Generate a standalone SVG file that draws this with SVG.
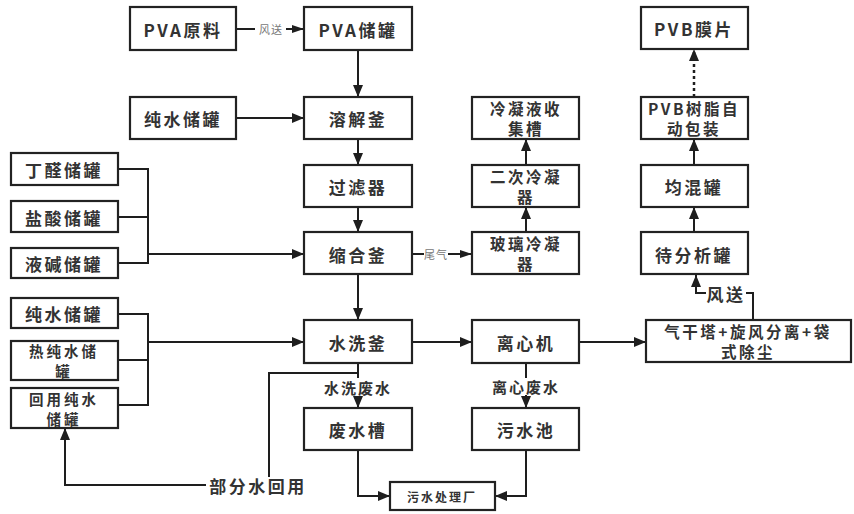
<svg xmlns="http://www.w3.org/2000/svg" width="854" height="514" viewBox="0 0 854 514">
<defs>
<marker id="ah" viewBox="0 0 12 10" refX="12" refY="5" markerWidth="12" markerHeight="11" markerUnits="userSpaceOnUse" orient="auto">
<path d="M0,0 L12,5 L0,10 z" fill="#1e1e1e"/>
</marker>
<marker id="ahs" viewBox="0 0 12 8" refX="12" refY="4" markerWidth="12" markerHeight="8" markerUnits="userSpaceOnUse" orient="auto">
<path d="M0,0 L12,4 L0,8 z" fill="#1e1e1e"/>
</marker>
</defs>
<style>
rect.b{fill:#fff;stroke:#222;stroke-width:2.2}
text{font-family:"Noto Sans CJK SC","Noto Sans",sans-serif;fill:#333;font-size:17px;font-weight:bold;letter-spacing:2.5px;text-anchor:middle;dominant-baseline:central}
text.t2{font-size:15.5px;letter-spacing:2.5px}
text.t3{font-size:14.5px;letter-spacing:3px}
text.lbl{font-size:15px;letter-spacing:2px}
text.sm{font-size:11px;fill:#777;font-weight:normal;letter-spacing:1px}
text.wt{font-size:12px;letter-spacing:2px}
.c path,.c line,.c polyline{fill:none;stroke:#1e1e1e;stroke-width:2}
.arr{marker-end:url(#ah)}
.c line.dot{stroke-dasharray:3 3;stroke-width:2.5}
</style>
<rect width="854" height="514" fill="#fff"/>
<g class="c" id="connectors">
<line x1="236" y1="29" x2="255" y2="29"/>
<line x1="286" y1="29" x2="304" y2="29" style="marker-end:url(#ahs)"/>
<line x1="358" y1="50" x2="358" y2="97" class="arr"/>
<line x1="236" y1="118" x2="304" y2="118" class="arr"/>
<line x1="358" y1="139" x2="358" y2="165" class="arr"/>
<line x1="358" y1="207" x2="358" y2="232" class="arr"/>
<line x1="358" y1="274" x2="358" y2="320" class="arr"/>
<polyline points="118,169 148,169 148,263 118,263"/>
<line x1="118" y1="217" x2="148" y2="217"/>
<line x1="148" y1="254" x2="304" y2="254" class="arr"/>
<polyline points="118,314 148,314 148,405 118,405"/>
<line x1="118" y1="360" x2="148" y2="360"/>
<line x1="148" y1="342" x2="304" y2="342" class="arr"/>
<line x1="412" y1="254" x2="424" y2="254"/>
<line x1="448" y1="254" x2="472" y2="254" style="marker-end:url(#ahs)"/>
<line x1="526" y1="232" x2="526" y2="207" class="arr"/>
<line x1="526" y1="165" x2="526" y2="139" class="arr"/>
<line x1="412" y1="342" x2="472" y2="342" class="arr"/>
<line x1="579" y1="342" x2="646" y2="342" class="arr"/>
<line x1="358" y1="363" x2="358" y2="378"/>
<line x1="358" y1="396" x2="358" y2="408" class="arr"/>
<polyline points="358,373 269,373 269,477"/>
<polyline points="206,485 65,485 65,428" class="arr"/>
<line x1="526" y1="363" x2="526" y2="378"/>
<line x1="526" y1="395" x2="526" y2="408" class="arr"/>
<polyline points="358,450 358,496 390,496" class="arr"/>
<polyline points="526,450 526,496 495,496" class="arr"/>
<polyline points="753,320 753,293 746,293"/>
<polyline points="706,293 696,293 696,275" class="arr"/>
<line x1="694" y1="232" x2="694" y2="207" class="arr"/>
<line x1="694" y1="165" x2="694" y2="139" class="arr"/>
<line x1="694" y1="97" x2="694" y2="49" class="arr dot"/>
<text class="sm" x="271" y="29">风送</text>
<text class="sm" x="436" y="254">尾气</text>
<text class="lbl" x="358" y="387">水洗废水</text>
<text class="lbl" x="526" y="386">离心废水</text>
<text x="258" y="485">部分水回用</text>
<text x="726" y="293">风送</text>
</g>
<g id="pva_raw"><rect class="b" x="130" y="7" width="106" height="43"/><text x="183" y="29">PVA原料</text></g>
<g id="pva_tank"><rect class="b" x="304" y="7" width="108" height="43"/><text x="358" y="29">PVA储罐</text></g>
<g id="pure_water_top"><rect class="b" x="130" y="97" width="106" height="42"/><text x="183" y="118">纯水储罐</text></g>
<g id="dissolve"><rect class="b" x="304" y="97" width="108" height="42"/><text x="358" y="118">溶解釜</text></g>
<g id="filter"><rect class="b" x="304" y="165" width="108" height="42"/><text x="358" y="186">过滤器</text></g>
<g id="condense_kettle"><rect class="b" x="304" y="232" width="108" height="42"/><text x="358" y="254">缩合釜</text></g>
<g id="wash_kettle"><rect class="b" x="304" y="320" width="108" height="43"/><text x="358" y="342">水洗釜</text></g>
<g id="waste_tank"><rect class="b" x="304" y="408" width="108" height="42"/><text x="358" y="429">废水槽</text></g>
<g id="butyraldehyde"><rect class="b" x="11" y="153" width="107" height="32"/><text x="64" y="169">丁醛储罐</text></g>
<g id="hcl"><rect class="b" x="11" y="201" width="107" height="31"/><text x="64" y="217">盐酸储罐</text></g>
<g id="naoh"><rect class="b" x="11" y="248" width="107" height="30"/><text x="64" y="263">液碱储罐</text></g>
<g id="pure_water_left"><rect class="b" x="11" y="298" width="107" height="30"/><text x="64" y="313">纯水储罐</text></g>
<g id="hot_water"><rect class="b" x="11" y="341" width="107" height="39"/><text class="t3" x="64" y="350.5">热纯水储</text><text class="t3" x="64" y="370.5">罐</text></g>
<g id="reuse_water"><rect class="b" x="11" y="388" width="107" height="40"/><text class="t3" x="64" y="398">回用纯水</text><text class="t3" x="64" y="418">储罐</text></g>
<g id="condensate"><rect class="b" x="472" y="97" width="107" height="42"/><text class="t2" x="526" y="108">冷凝液收</text><text class="t2" x="526" y="128">集槽</text></g>
<g id="second_condenser"><rect class="b" x="472" y="165" width="107" height="42"/><text class="t2" x="526" y="176">二次冷凝</text><text class="t2" x="526" y="196">器</text></g>
<g id="glass_condenser"><rect class="b" x="472" y="232" width="107" height="42"/><text class="t2" x="526" y="243">玻璃冷凝</text><text class="t2" x="526" y="263">器</text></g>
<g id="centrifuge"><rect class="b" x="472" y="320" width="107" height="43"/><text x="526" y="342">离心机</text></g>
<g id="sewage_pool"><rect class="b" x="472" y="408" width="107" height="42"/><text x="526" y="429">污水池</text></g>
<g id="treatment"><rect class="b" x="390" y="482" width="105" height="28"/><text class="wt" x="442" y="496">污水处理厂</text></g>
<g id="pvb_film"><rect class="b" x="641" y="7" width="107" height="42"/><text x="694" y="28">PVB膜片</text></g>
<g id="pvb_pack"><rect class="b" x="641" y="97" width="107" height="42"/><text class="t2" x="694" y="108">PVB树脂自</text><text class="t2" x="694" y="128">动包装</text></g>
<g id="mix_tank"><rect class="b" x="641" y="165" width="107" height="42"/><text x="694" y="186">均混罐</text></g>
<g id="analysis_tank"><rect class="b" x="641" y="232" width="107" height="42"/><text x="694" y="254">待分析罐</text></g>
<g id="dryer"><rect class="b" x="646" y="320" width="205" height="42"/><text class="t2" x="748" y="331">气干塔+旋风分离+袋</text><text class="t2" x="748" y="351">式除尘</text></g>
</svg>
